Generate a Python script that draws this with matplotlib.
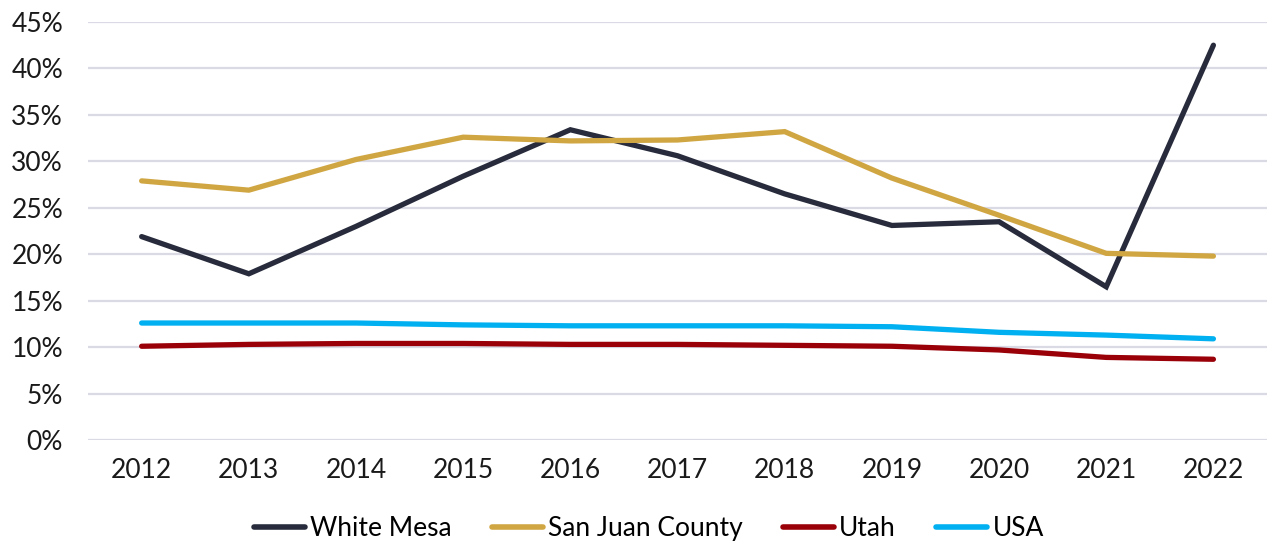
import matplotlib
matplotlib.use("Agg")
import matplotlib.pyplot as plt
from matplotlib.ticker import PercentFormatter

years = ["2012", "2013", "2014", "2015", "2016", "2017", "2018", "2019", "2020", "2021", "2022"]
white_mesa = [21.9, 17.9, 23.0, 28.4, 33.4, 30.6, 26.5, 23.1, 23.5, 16.5, 42.5]
san_juan = [27.9, 26.9, 30.2, 32.6, 32.2, 32.3, 33.2, 28.2, 24.2, 20.1, 19.8]
utah = [10.1, 10.3, 10.4, 10.4, 10.3, 10.3, 10.2, 10.1, 9.7, 8.9, 8.7]
usa = [12.6, 12.6, 12.6, 12.4, 12.3, 12.3, 12.3, 12.2, 11.6, 11.3, 10.9]

series = [
    ("White Mesa", white_mesa, "#272b3b"),
    ("San Juan County", san_juan, "#d0a643"),
    ("Utah", utah, "#990008"),
    ("USA", usa, "#00b0f0"),
]

plt.rcParams["font.family"] = ["Lato", "DejaVu Sans"]

fig = plt.figure(figsize=(12.67, 5.44), dpi=100)
ax = fig.add_axes([0.0695, 0.191, 0.9305, 0.7686])

x = range(len(years))
for name, vals, color in series:
    ax.plot(x, vals, color=color, lw=3.8, label=name,
            solid_capstyle="round", solid_joinstyle="miter", clip_on=False, zorder=3)

ax.set_ylim(0, 45)
ax.set_xlim(-0.5, len(years) - 0.5)
ax.set_yticks(range(0, 50, 5))
ax.yaxis.set_major_formatter(PercentFormatter(decimals=0))
ax.set_xticks(list(x))
ax.set_xticklabels(years)

ax.grid(axis="y", color="#d9dae4", lw=1.6, zorder=0)
ax.set_axisbelow(True)
for s in ax.spines.values():
    s.set_visible(False)
ax.tick_params(axis="both", length=0, labelsize=19, colors="#1a1a1a")
ax.tick_params(axis="y", pad=18)
ax.tick_params(axis="x", pad=13)

leg = fig.legend(loc="center", bbox_to_anchor=(0.512, 0.028), ncol=4, frameon=False,
                 fontsize=19, handlelength=1.95, handletextpad=0.2, columnspacing=1.5)
for line in leg.get_lines():
    line.set_linewidth(4)
    line.set_solid_capstyle("round")

fig.savefig("out.png", dpi=100)
